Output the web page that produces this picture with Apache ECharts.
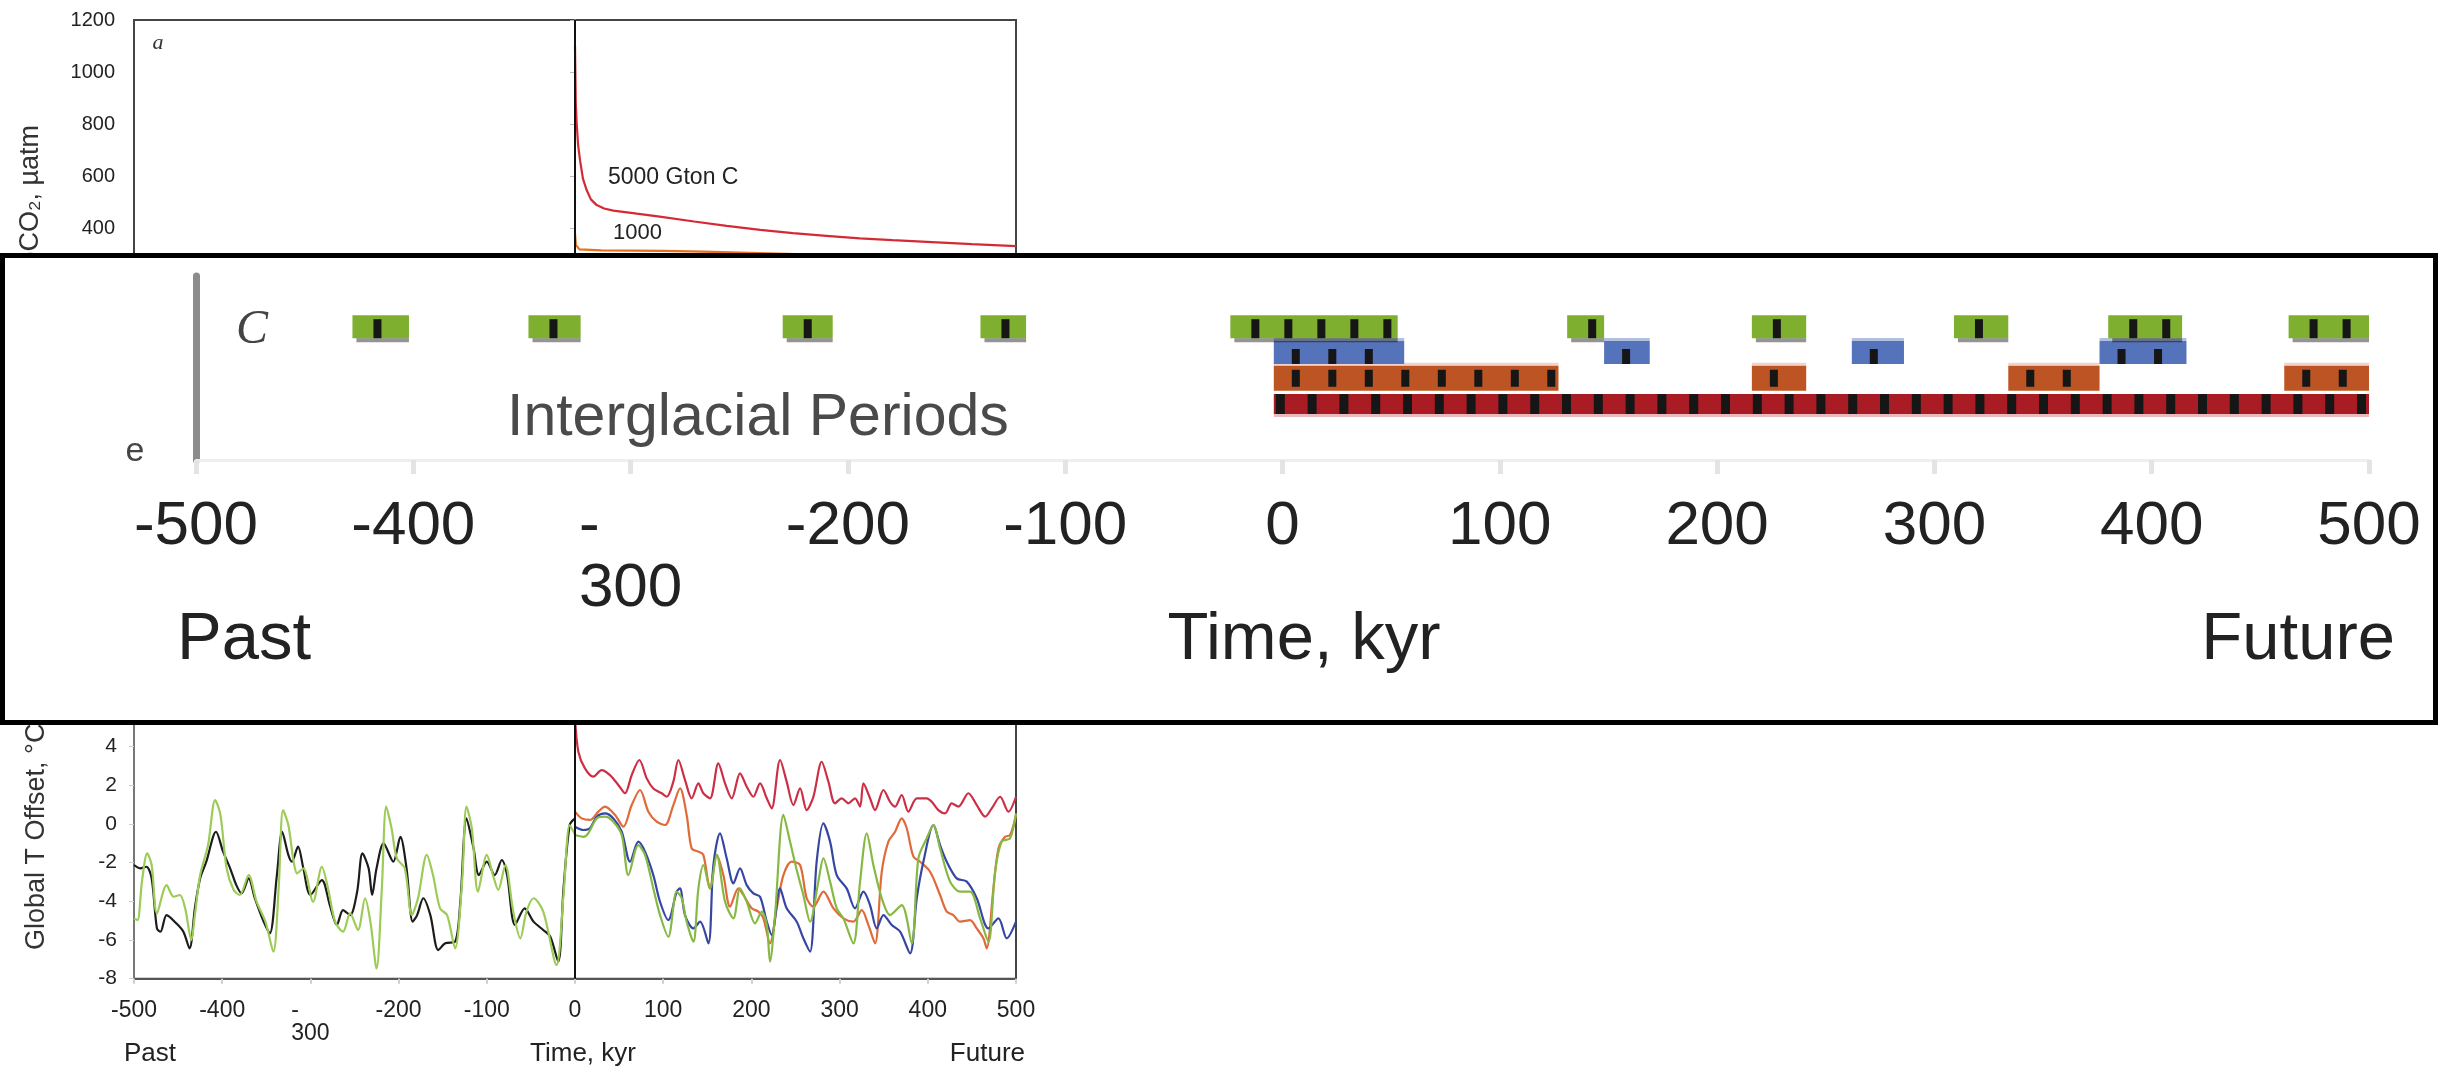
<!DOCTYPE html>
<html>
<head>
<meta charset="utf-8">
<script src="https://cdn.jsdelivr.net/npm/echarts@6/dist/echarts.min.js"></script>
<style>
html,body{margin:0;padding:0;background:#ffffff;}
#chart{width:2445px;height:1073px;}
</style>
</head>
<body>
<div id="chart"></div>
<script>
// ---------------- DATA ----------------
const FONT = "'Liberation Sans', Arial, Helvetica, sans-serif";
const SERIF = "'Liberation Serif', 'Times New Roman', serif";

// time axis (kyr)
const timeMin = -500, timeMax = 500, timeStep = 100;

// panel a: atmospheric CO2 (µatm) after release
const co2Gt5000 = [[0,1100],[0.9,880],[1.9,803],[3.5,720],[5.7,661],[9,590],[13.2,546],[18,510],[24.6,488],[33,475],[43.5,467],[70,455],[96,444],[135,425],[172,408],[210,393],[247,380],[285,370],[323,360],[360,353],[399,347],[450,338],[500,330]];
const co2Gt1000 = [[0,380],[1,335],[5,318],[30,314],[100,312],[145,309],[250,300],[500,290]];

// panel c: interglacial periods [start, end] (kyr)
const rowGreen = 0, rowBlue = 1, rowOrange = 2, rowRed = 3;
const interGreen = [[-428,-402],[-347,-323],[-230,-207],[-139,-118],[-24,53],[131,148],[216,241],[309,334],[380,414],[463,500]];
const interBlue = [[-4,56],[148,169],[262,286],[376,416]];
const interOrange = [[-4,127],[216,241],[334,376],[461,500]];
const interRed = [[-4,500]];

// panel d: global temperature offset (°C)
const tPastModel = [[-500,-2.12],[-493,-2.29],[-486,-2.21],[-480,-2.81],[-474,-5.40],[-470,-5.57],[-463,-4.71],[-452,-5.14],[-444,-5.57],[-437,-6.43],[-431,-4.36],[-425,-2.81],[-418,-1.95],[-407,-0.40],[-399,-1.43],[-391,-2.29],[-384,-3.16],[-378,-3.59],[-370,-2.81],[-363,-3.84],[-353,-5.05],[-346,-5.66],[-338,-2.64],[-332,-0.40],[-325,-1.60],[-321,-1.95],[-314,-1.17],[-308,-2.29],[-300,-3.67],[-287,-2.90],[-278,-4.19],[-270,-5.22],[-263,-4.45],[-255,-4.71],[-247,-3.50],[-241,-1.52],[-234,-2.29],[-230,-3.67],[-225,-2.29],[-217,-1.00],[-206,-1.95],[-198,-0.66],[-191,-2.29],[-184,-5.05],[-179,-4.71],[-172,-3.84],[-164,-4.71],[-155,-6.52],[-147,-6.17],[-136,-6.09],[-130,-4.02],[-123,0.29],[-115,-1.26],[-109,-2.64],[-100,-1.95],[-91,-2.64],[-83,-1.86],[-77,-2.64],[-68,-5.22],[-57,-4.36],[-47,-5.05],[-36,-5.48],[-28,-5.83],[-19,-7.12],[-13,-3.33],[-6,-0.05],[0,0.29]];
const tPastGreen = [[-500,-4.88],[-496,-4.97],[-491,-2.98],[-485,-1.52],[-480,-2.12],[-474,-4.62],[-463,-3.16],[-455,-3.76],[-448,-3.67],[-442,-4.36],[-435,-6.0],[-431,-4.71],[-425,-2.64],[-416,-1.09],[-408,1.24],[-402,0.47],[-395,-2.29],[-387,-3.41],[-380,-3.67],[-370,-2.64],[-361,-4.02],[-351,-5.05],[-342,-6.6],[-336,-3.33],[-331,0.72],[-325,-0.05],[-319,-1.95],[-315,-2.55],[-308,-2.29],[-297,-4.02],[-287,-2.21],[-280,-3.33],[-272,-5.05],[-263,-5.57],[-255,-4.62],[-246,-5.48],[-238,-3.84],[-232,-5.05],[-225,-7.47],[-219,-3.33],[-214,0.90],[-208,-0.22],[-202,-1.78],[-193,-2.29],[-185,-4.71],[-178,-3.84],[-168,-1.60],[-161,-2.64],[-153,-4.36],[-145,-4.71],[-136,-6.43],[-128,-2.98],[-123,0.90],[-117,-0.22],[-110,-3.50],[-100,-1.60],[-93,-2.64],[-87,-3.41],[-79,-2.12],[-70,-4.53],[-62,-5.91],[-55,-4.53],[-47,-3.84],[-36,-4.53],[-21,-7.29],[-13,-3.67],[-6,-0.05],[0,-0.55]];
const tFutureGreen = [[0,-0.57],[9.5,-0.66],[15,-0.48],[24.6,0.29],[34,0.38],[43.5,0.12],[53,-0.57],[60.5,-2.64],[71.8,-1.09],[79.4,-1.60],[88.8,-3.33],[96.4,-4.71],[105.8,-5.83],[115.3,-3.50],[121,-3.84],[126.6,-5.05],[134.2,-6.09],[139.9,-3.33],[145.5,-2.12],[153.1,-3.33],[160.7,-1.60],[170.1,-4.02],[179.6,-4.88],[187.1,-3.33],[194.7,-4.02],[204.1,-5.14],[211.7,-4.53],[217.4,-5.22],[221.1,-7.12],[226.8,-4.71],[236.3,0.47],[243.8,-0.91],[251.4,-2.38],[258.9,-3.67],[266.5,-5.05],[275.9,-2.98],[281.6,-1.78],[289.2,-2.98],[296.7,-4.36],[304.3,-4.88],[315.6,-6.17],[323.2,-2.98],[330.8,-0.48],[338.3,-2.12],[347.8,-3.84],[357.2,-4.71],[370.4,-4.19],[381.8,-6.17],[389.3,-1.78],[398.8,-0.74],[406.4,-0.05],[413.9,-1.26],[425.3,-2.98],[436.6,-3.50],[447.9,-3.50],[459.3,-4.88],[468.7,-6.09],[476.3,-2.47],[483.8,-0.91],[493.3,-0.74],[500,0.55]];
const tFutureBlue = [[0,-0.14],[9.5,-0.31],[17,-0.22],[24.6,0.38],[34,0.55],[43.5,0.29],[53,-0.40],[62.4,-1.95],[71.8,-0.91],[79.4,-1.43],[88.8,-2.64],[96.4,-4.02],[105.8,-4.97],[115.3,-3.50],[119,-3.33],[124.7,-4.71],[134.2,-5.40],[141.8,-5.05],[151.2,-6.17],[156.9,-2.12],[164.4,-0.48],[172,-1.78],[179.6,-3.07],[187.1,-2.29],[194.7,-3.16],[202.2,-3.59],[209.8,-3.76],[217.4,-5.05],[223,-5.74],[232.5,-3.33],[240,-4.36],[251.4,-5.05],[258.9,-5.91],[266.5,-6.60],[274,-1.95],[281.6,0.03],[289.2,-0.91],[296.7,-2.64],[308,-3.33],[317.5,-4.36],[327,-3.50],[334.5,-4.19],[342.1,-5.40],[349.7,-4.71],[359.1,-5.22],[368.6,-5.57],[379.9,-6.69],[387.5,-3.84],[395,-1.95],[406.4,-0.05],[413.9,-1.09],[421.5,-1.95],[432.8,-2.81],[444.2,-2.98],[455.5,-3.84],[468.7,-5.40],[480.1,-4.88],[489.5,-5.91],[500,-5.05]];
const tFutureOrange = [[0,0.64],[7.6,0.29],[17,0.21],[26.5,0.64],[34,0.90],[45.4,0.47],[54.8,-0.14],[64.3,0.98],[73.7,1.76],[83.2,0.64],[92.6,0.12],[102.1,-0.05],[111.5,0.98],[119.1,1.84],[126.6,0.47],[132.3,-1.26],[139.9,-1.43],[145.5,-1.60],[153.1,-3.33],[160.7,-1.60],[168.2,-2.64],[175.8,-4.28],[185.2,-3.33],[190.9,-3.67],[200.3,-4.36],[207.9,-4.53],[213.6,-4.88],[221.1,-6.17],[228.7,-4.36],[236.3,-2.64],[245.7,-1.95],[255.2,-2.12],[262.7,-3.84],[270.3,-4.28],[281.6,-3.50],[293,-4.36],[304.3,-4.88],[315.6,-5.05],[325.1,-4.45],[332.6,-5.22],[340.2,-6.17],[347.8,-2.47],[355.3,-0.91],[362.9,-0.40],[370.4,0.29],[376.1,-0.22],[383.7,-1.69],[391.2,-1.95],[402.6,-2.47],[413.9,-3.67],[421.5,-4.53],[429,-4.71],[436.6,-5.05],[447.9,-4.97],[455.5,-5.40],[463,-5.91],[466.8,-6.43],[474.4,-3.33],[480.1,-1.26],[487.6,-0.66],[493.3,-0.57],[500,0.47]];
const tFutureRed = [[0,5.5],[3.8,3.74],[11.3,2.88],[20.8,2.45],[30.2,2.79],[39.7,2.53],[49.1,2.02],[56.7,1.59],[64.3,2.53],[73,3.31],[81.3,2.36],[88.8,1.84],[98.3,1.59],[104,1.41],[111.5,2.19],[117.2,3.31],[124.7,2.28],[132.3,1.33],[139.9,2.10],[145.5,1.59],[153.1,1.33],[162.5,3.14],[170.1,2.10],[177.7,1.33],[187.1,2.62],[194.7,1.93],[202.2,1.41],[209.8,2.10],[217.4,1.33],[223,0.81],[232.5,3.31],[240,2.19],[247.6,0.98],[255.2,1.84],[262.7,0.72],[270.3,1.41],[279.7,3.22],[287.3,2.19],[294.8,1.07],[302.4,1.33],[310,1.07],[317.5,1.33],[323.2,0.90],[327,2.10],[334.5,1.33],[340.2,0.72],[349.7,1.76],[357.2,1.15],[362.9,0.90],[370.4,1.50],[378,0.64],[387.5,1.33],[398.8,1.33],[404.5,1.15],[412,0.72],[419.6,0.55],[427.1,1.07],[434.7,0.90],[446,1.59],[455.5,0.98],[465,0.38],[472.5,0.81],[482,1.41],[491.4,0.64],[500,1.41]];

// ---------------- CHART ----------------
const chart = echarts.init(document.getElementById('chart'), null, {renderer: 'canvas'});

function timeLabel(v) {
  if (v === -300) return '{m|-}\n{n|300}';
  return '{n|' + v + '}';
}
function plainLabel(v) { return String(v); }
function richFor(size, color) {
  return {
    m: {fontSize: size, lineHeight: size, fontFamily: FONT, color: color, align: 'left'},
    n: {fontSize: size, lineHeight: size, fontFamily: FONT, color: color}
  };
}

function barRenderer(st) {
  return function (params, api) {
    const a = api.coord([api.value(0), api.value(2)]);
    const b = api.coord([api.value(1), api.value(2)]);
    const x0 = a[0], x1 = b[0], cy = a[1];
    const top = cy - st.h / 2;
    const w = x1 - x0;
    const kids = [];
    if (st.over) kids.push({type: 'rect', shape: {x: x0, y: top - st.over.h, width: w, height: st.over.h}, style: {fill: st.over.color}});
    kids.push({type: 'rect', shape: {x: x0, y: top, width: w, height: st.h}, style: {fill: st.color}});
    for (let sx = x0 + st.first; sx + st.sw <= x1 + 0.5; sx += st.pitch) {
      kids.push({type: 'rect', shape: {x: sx, y: top + st.sTop, width: st.sw, height: st.h - st.sTop - st.sBot}, style: {fill: '#161616'}});
    }
    if (st.under) kids.push({type: 'rect', shape: {x: x0 + st.under.dx, y: top + st.h, width: w - st.under.dx, height: st.under.h}, style: {fill: st.under.color}});
    return {type: 'group', children: kids};
  };
}

function rows(list, row) { return list.map(b => [b[0], b[1], row]); }

const lineBase = {type: 'line', showSymbol: false, symbol: 'none', xAxisIndex: 1, yAxisIndex: 1, smooth: 0.3, silent: true};

const option = {
  animation: false,
  backgroundColor: '#ffffff',
  grid: [
    {left: 134, top: 20, width: 882, height: 312, show: true, borderColor: '#444', borderWidth: 2, containLabel: false, outerBoundsMode: 'none'},
    {left: 134, top: 708, width: 882, height: 270.7, show: true, borderColor: '#444', borderWidth: 2, containLabel: false, outerBoundsMode: 'none'},
    {left: 196, top: 276, width: 2173, height: 184, show: false, containLabel: false, outerBoundsMode: 'none'}
  ],
  xAxis: [
    {gridIndex: 0, type: 'value', min: timeMin, max: timeMax, interval: timeStep,
     axisLine: {show: false}, axisTick: {show: false}, axisLabel: {show: false}, splitLine: {show: false}},
    {gridIndex: 1, type: 'value', min: timeMin, max: timeMax, interval: timeStep,
     axisLine: {show: true, onZero: false, lineStyle: {color: '#555', width: 2}},
     axisTick: {show: true, length: 5, lineStyle: {color: '#cfcfcf', width: 2}},
     axisLabel: {show: true, interval: 0, margin: 20, formatter: timeLabel, rich: richFor(23, '#222')},
     splitLine: {show: false}},
    {gridIndex: 2, type: 'value', min: timeMin, max: timeMax, interval: timeStep, z: 30,
     axisLine: {show: true, onZero: false, lineStyle: {color: '#eeeeee', width: 3}},
     axisTick: {show: true, length: 14, lineStyle: {color: '#e4e4e4', width: 5}},
     axisLabel: {show: true, interval: 0, margin: 36, formatter: timeLabel, rich: richFor(62, '#222')},
     splitLine: {show: false}}
  ],
  yAxis: [
    {gridIndex: 0, type: 'value', min: 0, max: 1200, interval: 200,
     axisLine: {show: true, lineStyle: {color: '#888', width: 2}},
     axisTick: {show: true, length: 5, lineStyle: {color: '#bbb'}},
     axisLabel: {show: true, margin: 19, fontSize: 20, fontFamily: FONT, color: '#222', formatter: plainLabel},
     splitLine: {show: false}},
    {gridIndex: 1, type: 'value', min: -8, max: 6, interval: 2,
     axisLine: {show: true, onZero: false, lineStyle: {color: '#777', width: 2}},
     axisTick: {show: true, length: 5, lineStyle: {color: '#cfcfcf'}},
     axisLabel: {show: true, margin: 17, fontSize: 21, fontFamily: FONT, color: '#222', formatter: plainLabel},
     splitLine: {show: false}},
    {gridIndex: 2, type: 'value', min: -1.966, max: 5.169, inverse: true, z: 30,
     axisLine: {show: true, onZero: false, lineStyle: {color: '#8c8c8c', width: 7}},
     axisTick: {show: false}, axisLabel: {show: false}, splitLine: {show: false}}
  ],
  series: [
    // panel a
    {type: 'line', xAxisIndex: 0, yAxisIndex: 0, data: co2Gt5000, showSymbol: false, symbol: 'none', silent: true,
     lineStyle: {color: '#d32a36', width: 2.2},
     markLine: {silent: true, symbol: ['none', 'none'], label: {show: false},
       lineStyle: {color: '#111', width: 2, type: 'solid'}, data: [{xAxis: 0}]}},
    {type: 'line', xAxisIndex: 0, yAxisIndex: 0, data: co2Gt1000, showSymbol: false, symbol: 'none', silent: true,
     lineStyle: {color: '#e8701f', width: 2.2}},
    // panel d
    Object.assign({}, lineBase, {data: tPastModel, lineStyle: {color: '#1c1c1c', width: 2.2},
     markLine: {silent: true, symbol: ['none', 'none'], label: {show: false},
       lineStyle: {color: '#111', width: 2, type: 'solid'}, data: [{xAxis: 0}]}}),
    Object.assign({}, lineBase, {data: tFutureRed, lineStyle: {color: '#cc2f45', width: 2.2}}),
    Object.assign({}, lineBase, {data: tFutureOrange, lineStyle: {color: '#e06a3a', width: 2.2}}),
    Object.assign({}, lineBase, {data: tFutureBlue, lineStyle: {color: '#3646a3', width: 2.2}}),
    Object.assign({}, lineBase, {data: tFutureGreen, lineStyle: {color: '#86b944', width: 2.2}}),
    Object.assign({}, lineBase, {data: tPastGreen, lineStyle: {color: '#9ccb58', width: 2.2}}),
    // panel c bars
    {type: 'custom', xAxisIndex: 2, yAxisIndex: 2, z: 30, silent: true, clip: false,
     encode: {x: [0, 1], y: 2}, data: rows(interRed, rowRed),
     renderItem: barRenderer({h: 20, color: '#aa1c24', first: 2, pitch: 31.8, sw: 9, sTop: 0, sBot: 0,
       under: {dx: 0, h: 3, color: '#eab9bd'}})},
    {type: 'custom', xAxisIndex: 2, yAxisIndex: 2, z: 30, silent: true, clip: false,
     encode: {x: [0, 1], y: 2}, data: rows(interOrange, rowOrange),
     renderItem: barRenderer({h: 25, color: '#bc5423', first: 18, pitch: 36.5, sw: 8, sTop: 4, sBot: 4,
       over: {h: 3, color: '#f4d3c6'}})},
    {type: 'custom', xAxisIndex: 2, yAxisIndex: 2, z: 30, silent: true, clip: false,
     encode: {x: [0, 1], y: 2}, data: rows(interBlue, rowBlue),
     renderItem: barRenderer({h: 23, color: '#5573bb', first: 18, pitch: 36.5, sw: 8, sTop: 8, sBot: 0,
       over: {h: 3, color: 'rgba(85,115,187,0.45)'}})},
    {type: 'custom', xAxisIndex: 2, yAxisIndex: 2, z: 31, silent: true, clip: false,
     encode: {x: [0, 1], y: 2}, data: rows(interGreen, rowGreen),
     renderItem: barRenderer({h: 23, color: '#7eaf2e', first: 21, pitch: 33, sw: 8, sTop: 4, sBot: 0,
       under: {dx: 4, h: 4, color: 'rgba(0,0,0,0.42)'}})},
    // panel c vertical reference lines
    {type: 'line', xAxisIndex: 2, yAxisIndex: 2, z: 35, data: [], silent: true,
     markLine: {silent: true, symbol: ['none', 'none'], label: {show: false},
       data: [
         {xAxis: 0, lineStyle: {color: '#2e2e2e', width: 4, type: 'solid'}},
         {xAxis: 500, lineStyle: {color: '#3a3a3a', width: 5, type: 'solid'}}
       ]}}
  ],
  graphic: {elements: [
    // panel a annotations
    {type: 'text', x: 158, y: 43, z: 5, silent: true,
     style: {text: 'a', fontSize: 22, fontStyle: 'italic', fontFamily: SERIF, fill: '#333', align: 'center', verticalAlign: 'middle'}},
    {type: 'text', x: 608, y: 178, z: 5, silent: true,
     style: {text: '5000 Gton C', fontSize: 23, fontFamily: FONT, fill: '#222', align: 'left', verticalAlign: 'middle'}},
    {type: 'text', x: 613, y: 233, z: 5, silent: true,
     style: {text: '1000', fontSize: 22, fontFamily: FONT, fill: '#222', align: 'left', verticalAlign: 'middle'}},
    {type: 'text', x: 31, y: 125, rotation: Math.PI / 2, z: 5, silent: true,
     style: {text: 'pCO₂, µatm', fontSize: 27, fontFamily: FONT, fill: '#333', align: 'right', verticalAlign: 'middle'}},
    // panel d annotations
    {type: 'text', x: 37, y: 950, rotation: Math.PI / 2, z: 5, silent: true,
     style: {text: 'Global T Offset, °C', fontSize: 27, fontFamily: FONT, fill: '#333', align: 'left', verticalAlign: 'middle'}},
    {type: 'text', x: 124, y: 1054, z: 5, silent: true,
     style: {text: 'Past', fontSize: 26, fontFamily: FONT, fill: '#222', align: 'left', verticalAlign: 'middle'}},
    {type: 'text', x: 583, y: 1054, z: 5, silent: true,
     style: {text: 'Time, kyr', fontSize: 26, fontFamily: FONT, fill: '#222', align: 'center', verticalAlign: 'middle'}},
    {type: 'text', x: 1025, y: 1054, z: 5, silent: true,
     style: {text: 'Future', fontSize: 26, fontFamily: FONT, fill: '#222', align: 'right', verticalAlign: 'middle'}},
    // enlarged inset box
    {type: 'rect', z: 20, silent: true, shape: {x: 2.5, y: 255.5, width: 2433, height: 467},
     style: {fill: '#ffffff', stroke: '#000000', lineWidth: 5}},
    {type: 'text', x: 252, y: 330, z: 40, silent: true,
     style: {text: 'C', fontSize: 48, fontStyle: 'italic', fontFamily: SERIF, fill: '#444', align: 'center', verticalAlign: 'middle'}},
    {type: 'text', x: 135, y: 452, z: 40, silent: true,
     style: {text: 'e', fontSize: 34, fontFamily: FONT, fill: '#444', align: 'center', verticalAlign: 'middle'}},
    {type: 'text', x: 507, y: 419, z: 40, silent: true,
     style: {text: 'Interglacial Periods', fontSize: 59, fontFamily: FONT, fill: '#4a4a4a', align: 'left', verticalAlign: 'middle'}},
    {type: 'text', x: 177, y: 641, z: 40, silent: true,
     style: {text: 'Past', fontSize: 67, fontFamily: FONT, fill: '#222', align: 'left', verticalAlign: 'middle'}},
    {type: 'text', x: 1304, y: 641, z: 40, silent: true,
     style: {text: 'Time, kyr', fontSize: 67, fontFamily: FONT, fill: '#222', align: 'center', verticalAlign: 'middle'}},
    {type: 'text', x: 2395, y: 641, z: 40, silent: true,
     style: {text: 'Future', fontSize: 67, fontFamily: FONT, fill: '#222', align: 'right', verticalAlign: 'middle'}}
  ]}
};

chart.setOption(option);
</script>
</body>
</html>
